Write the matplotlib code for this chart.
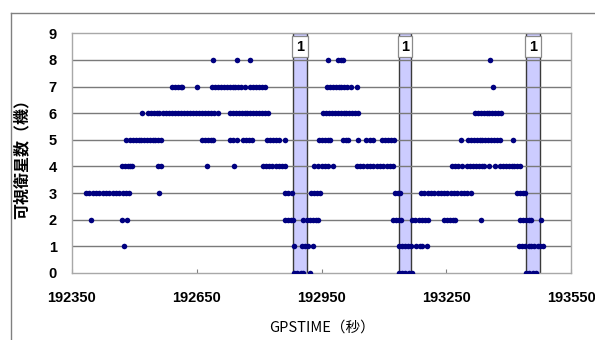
import numpy as np
import matplotlib
matplotlib.use('Agg')
import matplotlib.pyplot as plt
from matplotlib.lines import Line2D
from matplotlib.patches import Rectangle

plt.rcParams['font.family'] = ['Liberation Sans', 'Noto Sans CJK JP', 'DejaVu Sans']

# GPS time (s) of each epoch, grouped by number of visible satellites
sats_0 = [192884, 192892, 192900, 192906, 192922, 193136, 193144, 193152, 193160, 193168,
          193442, 193450, 193458, 193466]
sats_1 = [192475, 192884, 192903, 192910, 192917, 192930, 193136, 193143, 193152, 193158,
          193166, 193178, 193186, 193192, 193204, 193425, 193432, 193440, 193448, 193455,
          193462, 193470, 193476, 193483]
sats_2 = [192396, 192470, 192482, 192862, 192870, 192877, 192882, 192906, 192915, 192922,
          192930, 192937, 192942, 193122, 193129, 193136, 193141, 193168, 193176, 193184,
          193192, 193200, 193206, 193245, 193252, 193259, 193266, 193271, 193334, 193427,
          193434, 193441, 193448, 193454, 193478]
sats_3 = [192384, 192392, 192400, 192408, 192416, 192424, 192432, 192440, 192448, 192456,
          192464, 192472, 192480, 192487, 192559, 192862, 192870, 192879, 192925, 192932,
          192939, 192946, 193127, 193133, 193139, 193189, 193197, 193205, 193213, 193221,
          193229, 193237, 193245, 193253, 193261, 193269, 193277, 193285, 193293, 193301,
          193310, 193420, 193427, 193434, 193439]
sats_4 = [192470, 192477, 192484, 192490, 192494, 192557, 192563, 192675, 192740, 192809,
          192816, 192824, 192832, 192840, 192848, 192856, 192862, 192932, 192942, 192950,
          192958, 192966, 192978, 193035, 193043, 193051, 193059, 193067, 193075, 193083,
          193091, 193099, 193107, 193115, 193122, 193264, 193271, 193278, 193288, 193300,
          193307, 193314, 193321, 193328, 193335, 193341, 193353, 193367, 193379, 193386,
          193393, 193400, 193407, 193414, 193421, 193428]
sats_5 = [192480, 192489, 192496, 192503, 192510, 192517, 192524, 192531, 192538, 192545,
          192550, 192557, 192564, 192663, 192670, 192677, 192684, 192689, 192730, 192738,
          192746, 192761, 192768, 192775, 192783, 192819, 192826, 192833, 192840, 192847,
          192862, 192944, 192951, 192958, 192965, 192970, 193002, 193010, 193014, 193038,
          193057, 193066, 193074, 193095, 193102, 193109, 193116, 193124, 193285, 193302,
          193309, 193316, 193323, 193330, 193337, 193344, 193351, 193358, 193365, 193372,
          193380, 193410]
sats_6 = [192518, 192533, 192540, 192547, 192554, 192559, 192569, 192576, 192583, 192590,
          192597, 192606, 192613, 192620, 192627, 192634, 192641, 192648, 192655, 192662,
          192669, 192676, 192685, 192692, 192701, 192730, 192737, 192744, 192751, 192758,
          192765, 192772, 192779, 192786, 192793, 192800, 192807, 192814, 192822, 192954,
          192961, 192968, 192975, 192982, 192989, 192996, 193003, 193010, 193017, 193024,
          193031, 193038, 193319, 193326, 193333, 193340, 193347, 193354, 193361, 193368,
          193375, 193382]
sats_7 = [192590, 192597, 192604, 192611, 192615, 192651, 192687, 192694, 192701, 192708,
          192715, 192722, 192729, 192736, 192742, 192749, 192756, 192766, 192778, 192785,
          192792, 192799, 192806, 192814, 192963, 192970, 192977, 192984, 192991, 192998,
          193005, 193012, 193021, 193036, 193362]
sats_8 = [192689, 192747, 192778, 192966, 192990, 192996, 193002, 193355]

# highlighted intervals
band_start = [192881, 193136, 193442]
band_end = [192915, 193165, 193476]
band_top = 9
band_label = ['1', '1', '1']

xticks = [192350, 192650, 192950, 193250, 193550]
yticks = list(range(10))

groups = [sats_0, sats_1, sats_2, sats_3, sats_4, sats_5, sats_6, sats_7, sats_8]
x = np.concatenate([np.array(g, dtype=float) for g in groups])
y = np.concatenate([np.full(len(g), n) for n, g in enumerate(groups)])

fig = plt.figure(figsize=(5.95, 3.4), dpi=100)
ax = fig.add_axes([72 / 595, 1 - 273 / 340, 499 / 595, 239.7 / 340])

# bands
for s, e, lab in zip(band_start, band_end, band_label):
    ax.bar((s + e) / 2, band_top, width=e - s, color='#ccccff', edgecolor='#3a3a3a',
           linewidth=1.0, zorder=1)
    ax.add_patch(Rectangle((s - 3, 8.12), e - s + 6, 0.78, facecolor='white',
                           edgecolor='#8a8a8a', linewidth=0.9, zorder=4))
    ax.text((s + e) / 2, 8.5, lab, ha='center', va='center', fontsize=10.5,
            fontweight='bold', color='black', zorder=5)

for v in yticks[1:-1]:
    ax.axhline(v, color='#7a7a7a', linewidth=1.0, zorder=2)

ax.plot(x, y, linestyle='none', marker='o', markersize=4.0, color='#000080',
        markeredgewidth=0, zorder=3)

ax.set_xlim(192350, 193550)
ax.set_ylim(0, 9)
ax.set_xticks(xticks)
ax.set_yticks(yticks)
ax.set_xticklabels([str(t) for t in xticks], fontsize=10.5, fontweight='bold')
ax.set_yticklabels([str(t) for t in yticks], fontsize=10.5, fontweight='bold')
ax.tick_params(axis='x', direction='in', length=3, width=0.8, color='#808080', pad=13)
ax.tick_params(axis='y', length=0, pad=11)
for sp in ax.spines.values():
    sp.set_color('#a8a8a8')
    sp.set_linewidth(1.0)

fig.text(22 / 595, 1 - 155 / 340, '可視衛星数（機）', rotation=90, ha='center', va='center',
         fontsize=11.5, fontweight='bold', family=['Noto Sans CJK JP'])
fig.text(322 / 595, 1 - 328 / 340, 'GPSTIME（秒）', ha='center', va='center',
         fontsize=10.5, family=['Noto Sans CJK JP'])

# outer chart frame
fig.add_artist(Line2D([11 / 595, 1.0], [1 - 13 / 340, 1 - 13 / 340], color='#808080', linewidth=1.0))
fig.add_artist(Line2D([11 / 595, 11 / 595], [1 - 13 / 340, 0.0], color='#808080', linewidth=1.0))

fig.savefig('out.png', dpi=100)
